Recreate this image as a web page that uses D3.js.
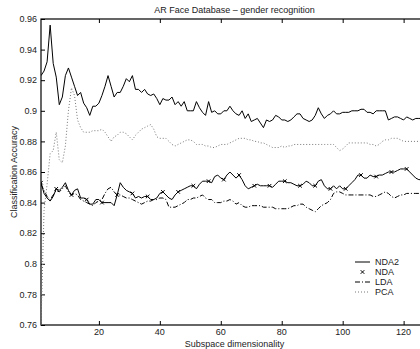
<!DOCTYPE html>
<html><head><meta charset="utf-8">
<script src="https://cdnjs.cloudflare.com/ajax/libs/d3/7.8.5/d3.min.js"></script>
<style>
html,body{margin:0;padding:0;background:#fff;}
svg text{font-family:"Liberation Sans",Arial,Helvetica,sans-serif;}
</style></head>
<body>
<script>
const title = "AR Face Database – gender recognition";
const xLabel = "Subspace dimensionality";
const yLabel = "Classification Accuracy";
const xTicks = [20,40,60,80,100,120];
const yTicks = [0.76,0.78,0.8,0.82,0.84,0.86,0.88,0.9,0.92,0.94,0.96];
const seriesNames = ["NDA2","NDA","LDA","PCA"];

// values for subspace dimensionality 1..127
const nda2 = [.923,.926,.932,.956,.931,.922,.904,.909,.923,.928,.922,.916,.910,.912,.905,.902,.897,.903,.903,.905,
.910,.916,.923,.916,.909,.912,.912,.916,.921,.919,.923,.914,.914,.912,.914,.911,.910,.911,.908,.904,
.908,.907,.907,.909,.904,.906,.903,.906,.900,.900,.900,.906,.902,.899,.897,.906,.899,.900,.898,.898,
.900,.900,.903,.900,.898,.897,.900,.895,.898,.893,.894,.895,.892,.889,.894,.893,.894,.897,.896,.894,
.894,.893,.894,.896,.898,.898,.895,.894,.893,.894,.897,.902,.898,.895,.897,.898,.900,.898,.898,.899,
.899,.899,.900,.900,.900,.901,.901,.899,.899,.898,.900,.900,.900,.900,.894,.895,.896,.896,.895,.894,
.896,.895,.894,.895,.895,.895,.895];
const nda = [.853,.846,.843,.841,.844,.849,.848,.850,.853,.848,.845,.848,.849,.843,.843,.842,.839,.839,.842,.842,
.840,.840,.840,.840,.838,.845,.853,.850,.848,.847,.846,.843,.844,.843,.844,.844,.842,.842,.843,.846,
.847,.845,.843,.842,.845,.847,.848,.849,.850,.851,.851,.849,.852,.854,.854,.854,.853,.857,.858,.856,
.855,.858,.860,.858,.856,.858,.855,.851,.849,.850,.851,.852,.851,.851,.851,.851,.850,.852,.854,.854,
.854,.853,.853,.852,.851,.851,.852,.854,.853,.851,.851,.854,.855,.851,.849,.849,.851,.849,.851,.849,
.849,.851,.853,.855,.858,.858,.856,.856,.858,.857,.857,.858,.858,.859,.860,.860,.860,.861,.862,.862,
.862,.860,.858,.856,.855,.855,.855];
const lda = [.852,.848,.844,.842,.845,.848,.847,.849,.851,.847,.845,.846,.845,.842,.841,.840,.839,.838,.840,.841,
.842,.846,.849,.850,.847,.845,.845,.844,.843,.843,.842,.841,.840,.839,.840,.841,.841,.842,.842,.843,
.843,.842,.837,.837,.837,.838,.839,.840,.842,.842,.843,.843,.844,.845,.843,.842,.842,.840,.840,.840,
.841,.841,.842,.841,.839,.840,.838,.837,.837,.838,.838,.838,.838,.837,.837,.837,.837,.836,.836,.836,
.836,.836,.837,.838,.838,.839,.839,.837,.836,.835,.834,.836,.838,.839,.840,.842,.846,.847,.847,.846,
.845,.845,.845,.845,.845,.845,.845,.845,.845,.844,.844,.845,.846,.847,.846,.844,.843,.844,.845,.845,
.846,.846,.846,.846,.846,.846,.846];
const pca = [.760,.835,.852,.872,.874,.886,.868,.866,.877,.900,.915,.910,.894,.889,.886,.886,.886,.887,.887,.887,
.888,.886,.883,.880,.883,.884,.886,.886,.885,.883,.881,.884,.886,.888,.889,.890,.891,.888,.883,.882,
.882,.882,.880,.878,.877,.878,.879,.880,.881,.881,.880,.878,.878,.878,.877,.877,.876,.876,.877,.878,
.878,.878,.879,.880,.881,.882,.882,.882,.881,.881,.880,.880,.879,.879,.878,.877,.876,.876,.876,.877,
.876,.877,.877,.878,.878,.878,.878,.878,.878,.878,.878,.878,.878,.878,.878,.878,.878,.876,.874,.875,
.877,.879,.879,.879,.879,.879,.879,.879,.878,.878,.877,.878,.880,.881,.881,.882,.882,.882,.881,.880,
.880,.880,.880,.880,.880,.880,.880];

const W = 420, H = 349;
const m = {left:41, top:19, right:428, bottom:325};
const svg = d3.select("body").append("svg").attr("width",W).attr("height",H);
const x = d3.scaleLinear().domain([1,128]).range([m.left,m.right]);
const y = d3.scaleLinear().domain([0.76,0.96]).range([m.bottom,m.top]);

svg.append("defs").append("clipPath").attr("id","clip")
  .append("rect").attr("x",m.left).attr("y",m.top).attr("width",m.right-m.left).attr("height",m.bottom-m.top);

const fmt = d => String(+d.toFixed(2));
const g = svg.append("g");

// axes: ticks inside
const axL = d3.axisRight(y).tickValues(yTicks).tickSize(4).tickFormat("");
const axB = d3.axisTop(x).tickValues(xTicks).tickSize(4).tickFormat("");
const axT = d3.axisBottom(x).tickValues(xTicks).tickSize(4).tickFormat("");
g.append("g").attr("transform",`translate(${m.left},0)`).call(axL);
g.append("g").attr("transform",`translate(0,${m.bottom})`).call(axB);
g.append("g").attr("transform",`translate(0,${m.top})`).call(axT);
g.selectAll(".domain").remove();
g.selectAll(".tick line").attr("stroke","#000").attr("stroke-width",1);

// frame
svg.append("rect").attr("x",m.left).attr("y",m.top).attr("width",m.right-m.left).attr("height",m.bottom-m.top)
  .attr("fill","none").attr("stroke","#000").attr("stroke-width",1.2);

// tick labels
svg.selectAll(".yl").data(yTicks).enter().append("text")
  .attr("x",m.left-4).attr("y",d=>y(d)).attr("dy","0.35em").attr("text-anchor","end")
  .attr("font-size",9).attr("fill","#222").text(fmt);
svg.selectAll(".xl").data(xTicks).enter().append("text")
  .attr("x",d=>x(d)).attr("y",m.bottom+6.5).attr("dy","0.35em").attr("text-anchor","middle")
  .attr("font-size",9).attr("fill","#222").text(d=>d);

svg.append("text").attr("x",(m.left+m.right)/2).attr("y",13).attr("text-anchor","middle")
  .attr("font-size",9).attr("fill","#222").text(title);
svg.append("text").attr("x",(m.left+m.right)/2).attr("y",347).attr("text-anchor","middle")
  .attr("font-size",9).attr("fill","#222").text(xLabel);
svg.append("text").attr("transform",`translate(17,${(m.top+m.bottom)/2}) rotate(-90)`)
  .attr("text-anchor","middle").attr("font-size",9).attr("fill","#222").text(yLabel);

const line = d3.line().x((d,i)=>x(i+1)).y(d=>y(d));
const plot = svg.append("g").attr("clip-path","url(#clip)");

plot.append("path").datum(pca).attr("d",line).attr("fill","none")
  .attr("stroke","#777").attr("stroke-width",1).attr("stroke-dasharray","1,2");
plot.append("path").datum(lda).attr("d",line).attr("fill","none")
  .attr("stroke","#000").attr("stroke-width",1).attr("stroke-dasharray","5,2,1,2");
plot.append("path").datum(nda).attr("d",line).attr("fill","none")
  .attr("stroke","#000").attr("stroke-width",1);
plot.append("path").datum(nda2).attr("d",line).attr("fill","none")
  .attr("stroke","#000").attr("stroke-width",1);

// NDA cross markers every 5th dimension
const mk = nda.map((v,i)=>({i:i+1,v})).filter(d=>(d.i-1)%5===0);
const cross = (cx,cy,s)=>`M${cx-s},${cy-s}L${cx+s},${cy+s}M${cx-s},${cy+s}L${cx+s},${cy-s}`;
plot.selectAll(".mk").data(mk).enter().append("path")
  .attr("d",d=>cross(x(d.i),y(d.v),1.8)).attr("stroke","#000").attr("stroke-width",1);

// legend
const lg = svg.append("g");
const ly = [262,272,282,292];
const styles = [
  {dash:null, color:"#000", line:true},
  {dash:null, color:"#000", line:false},
  {dash:"5,2,1,2", color:"#000", line:true},
  {dash:"1,2", color:"#777", line:true}
];
seriesNames.forEach((n,i)=>{
  if(styles[i].line){
    lg.append("line").attr("x1",355).attr("x2",370).attr("y1",ly[i]).attr("y2",ly[i])
      .attr("stroke",styles[i].color).attr("stroke-width",1)
      .attr("stroke-dasharray",styles[i].dash);
  } else {
    lg.append("path").attr("d",cross(362.5,ly[i],1.8)).attr("stroke","#000").attr("stroke-width",1);
  }
  lg.append("text").attr("x",375).attr("y",ly[i]).attr("dy","0.35em").attr("font-size",9)
    .attr("fill","#222").text(n);
});
</script>
</body></html>
